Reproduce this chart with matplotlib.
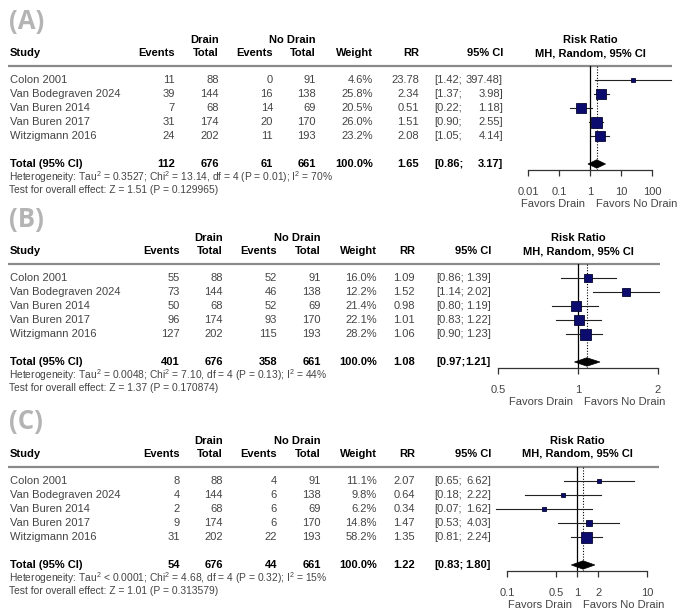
import numpy as np
import matplotlib.pyplot as plt
from matplotlib.patches import Polygon

plt.rcParams['font.family'] = ['Liberation Sans', 'DejaVu Sans']
plt.rcParams['mathtext.fontset'] = 'custom'
plt.rcParams['mathtext.rm'] = 'Liberation Sans'
plt.rcParams['mathtext.it'] = 'Liberation Sans:italic'
plt.rcParams['mathtext.bf'] = 'Liberation Sans:bold'

## Data shared by all three panels
studies = ['Colon 2001', 'Van Bodegraven 2024', 'Van Buren 2014', 'Van Buren 2017', 'Witzigmann 2016']
drain_total = [88, 144, 68, 174, 202]
nodrain_total = [91, 138, 69, 170, 193]

## (A)
a_drain_events = [11, 39, 7, 31, 24]
a_nodrain_events = [0, 16, 14, 20, 11]
a_weight = [4.6, 25.8, 20.5, 26.0, 23.2]
a_rr = [23.78, 2.34, 0.51, 1.51, 2.08]
a_lo = [1.42, 1.37, 0.22, 0.90, 1.05]
a_hi = [397.48, 3.98, 1.18, 2.55, 4.14]
a_totals = [112, 676, 61, 661]
a_summary = [1.65, 0.86, 3.17]
a_het = 'Heterogeneity: Tau$^2$ = 0.3527; Chi$^2$ = 13.14, df = 4 (P = 0.01); I$^2$ = 70%'
a_test = 'Test for overall effect: Z = 1.51 (P = 0.129965)'
a_ticks = [0.01, 0.1, 1, 10, 100]
a_ticklabels = ['0.01', '0.1', '1', '10', '100']

## (B)
b_drain_events = [55, 73, 50, 96, 127]
b_nodrain_events = [52, 46, 52, 93, 115]
b_weight = [16.0, 12.2, 21.4, 22.1, 28.2]
b_rr = [1.09, 1.52, 0.98, 1.01, 1.06]
b_lo = [0.86, 1.14, 0.80, 0.83, 0.90]
b_hi = [1.39, 2.02, 1.19, 1.22, 1.23]
b_totals = [401, 676, 358, 661]
b_summary = [1.08, 0.97, 1.21]
b_het = 'Heterogeneity: Tau$^2$ = 0.0048; Chi$^2$ = 7.10, df = 4 (P = 0.13); I$^2$ = 44%'
b_test = 'Test for overall effect: Z = 1.37 (P = 0.170874)'
b_ticks = [0.5, 1, 2]
b_ticklabels = ['0.5', '1', '2']

## (C)
c_drain_events = [8, 4, 2, 9, 31]
c_nodrain_events = [4, 6, 6, 6, 22]
c_weight = [11.1, 9.8, 6.2, 14.8, 58.2]
c_rr = [2.07, 0.64, 0.34, 1.47, 1.35]
c_lo = [0.65, 0.18, 0.07, 0.53, 0.81]
c_hi = [6.62, 2.22, 1.62, 4.03, 2.24]
c_totals = [54, 676, 44, 661]
c_summary = [1.22, 0.83, 1.80]
c_het = 'Heterogeneity: Tau$^2$ < 0.0001; Chi$^2$ = 4.68, df = 4 (P = 0.32); I$^2$ = 15%'
c_test = 'Test for overall effect: Z = 1.01 (P = 0.313579)'
c_ticks = [0.1, 0.5, 1, 2, 10]
c_ticklabels = ['0.1', '0.5', '1', '2', '10']

W, H = 685, 613
FS = 8
BODY = '#444444'
NAVY = '#0c0c6e'

fig = plt.figure(figsize=(W / 100, H / 100), dpi=100)
ov = fig.add_axes([0, 0, 1, 1])
ov.set_xlim(0, W)
ov.set_ylim(H, 0)
ov.axis('off')


def txt(x, y, s, ha='left', bold=False, color=BODY, size=FS):
    ov.text(x, y, s, ha=ha, va='center', fontsize=size, color=color,
            fontweight='bold' if bold else 'normal')


def draw_panel(base, label, cols, rule_end, de, ne, weight, rr, lo, hi, totals, summary,
               het, test, ticks, ticklabels, px_lo, px_hi):
    # cols: right edges of events, total, events, total, weight, rr, ci-left, ci-right
    ov.text(9, base - 45, label, ha='left', va='center', fontsize=18.5, color='#b4b4b4',
            fontweight='bold', family='Open Sans')

    centre = (px_lo + px_hi) / 2
    # header
    txt(cols[1], base - 26, 'Drain', ha='right', bold=True, color='black')
    txt(cols[3], base - 26, 'No Drain', ha='right', bold=True, color='black')
    txt(centre, base - 26, 'Risk Ratio', ha='center', bold=True, color='black')
    row2 = base - 13
    txt(10, row2, 'Study', bold=True, color='black')
    for x, s in zip(cols[:4], ['Events', 'Total', 'Events', 'Total']):
        txt(x, row2, s, ha='right', bold=True, color='black')
    txt(cols[4], row2, 'Weight', ha='right', bold=True, color='black')
    txt(cols[5], row2, 'RR', ha='right', bold=True, color='black')
    txt(cols[7], row2, '95% CI', ha='right', bold=True, color='black')
    txt(centre, row2, 'MH, Random, 95% CI', ha='center', bold=True, color='black')
    ov.plot([8, rule_end], [base, base], color='#8a8a8a', lw=1.6, solid_capstyle='butt')

    # study rows
    for i in range(len(studies)):
        y = base + 14 * (i + 1)
        txt(10, y, studies[i])
        txt(cols[0], y, str(de[i]), ha='right')
        txt(cols[1], y, str(drain_total[i]), ha='right')
        txt(cols[2], y, str(ne[i]), ha='right')
        txt(cols[3], y, str(nodrain_total[i]), ha='right')
        txt(cols[4], y, '%.1f%%' % weight[i], ha='right')
        txt(cols[5], y, '%.2f' % rr[i], ha='right')
        txt(cols[6], y, '[%.2f;' % lo[i])
        txt(cols[7], y, '%.2f]' % hi[i], ha='right')

    # total row
    y = base + 98
    txt(10, y, 'Total (95% CI)', bold=True, color='black')
    for x, v in zip(cols[:4], totals):
        txt(x, y, str(v), ha='right', bold=True, color='black')
    txt(cols[4], y, '100.0%', ha='right', bold=True, color='black')
    txt(cols[5], y, '%.2f' % summary[0], ha='right', bold=True, color='black')
    txt(cols[6], y, '[%.2f;' % summary[1], bold=True, color='black')
    txt(cols[7], y, '%.2f]' % summary[2], ha='right', bold=True, color='black')
    txt(9, base + 111, het, size=7.4)
    txt(9, base + 124, test, size=7.4)

    # forest axes: pixel span 430..685, from rule down to the axis line
    v_lo, v_hi = ticks[0], ticks[-1]
    ppd = (px_hi - px_lo) / (np.log10(v_hi) - np.log10(v_lo))
    x_left, x_right = 430, 685
    lim_l = 10 ** (np.log10(v_lo) + (x_left - px_lo) / ppd)
    lim_r = 10 ** (np.log10(v_lo) + (x_right - px_lo) / ppd)
    top, bottom = base, base + 104
    ax = fig.add_axes([x_left / W, 1 - bottom / H, (x_right - x_left) / W, (bottom - top) / H])
    ax.set_xscale('log')
    ax.set_xlim(lim_l, lim_r)
    ax.set_ylim(7.43, 0)
    ax.patch.set_alpha(0)
    for sp in ['top', 'left', 'right']:
        ax.spines[sp].set_visible(False)
    ax.spines['bottom'].set_bounds(v_lo, v_hi)
    ax.spines['bottom'].set_color('#333333')
    ax.spines['bottom'].set_linewidth(0.9)
    ax.set_yticks([])
    ax.set_xticks(ticks)
    ax.set_xticklabels(ticklabels)
    ax.minorticks_off()
    ax.tick_params(axis='x', direction='out', length=4.5, width=0.9, color='#333333',
                   labelsize=FS, labelcolor=BODY, pad=7.5)

    ax.axvline(1, color='black', lw=0.9)
    ax.axvline(summary[0], color='black', lw=0.8, ls=(0, (1, 1.5)))

    wmax = max(weight)
    for i in range(len(studies)):
        yy = i + 1
        ax.plot([lo[i], hi[i]], [yy, yy], color='#222222', lw=0.8, clip_on=False)
        side = 11 * np.sqrt(weight[i] / wmax) * 0.72
        ax.plot(rr[i], yy, marker='s', markersize=side, markerfacecolor=NAVY,
                markeredgecolor='#050530', markeredgewidth=0.6, clip_on=False)

    est, l, h = summary
    ax.add_patch(Polygon([[l, 7], [est, 7 - 0.3], [h, 7], [est, 7 + 0.3]], closed=True,
                         facecolor='black', edgecolor='black', lw=0.5, clip_on=False))

    # favour labels either side of the line of no effect
    one_px = px_lo + (0 - np.log10(v_lo)) * ppd
    txt(one_px - 5, base + 138, 'Favors Drain', ha='right')
    txt(one_px + 6, base + 138, 'Favors No Drain')


draw_panel(66, '(A)', [175, 219, 273, 316, 373, 419, 434, 503], 672,
           a_drain_events, a_nodrain_events, a_weight, a_rr, a_lo, a_hi, a_totals, a_summary,
           a_het, a_test, a_ticks, a_ticklabels, 528, 652)
draw_panel(264, '(B)', [180, 223, 277, 321, 377, 415, 436, 491], 660,
           b_drain_events, b_nodrain_events, b_weight, b_rr, b_lo, b_hi, b_totals, b_summary,
           b_het, b_test, b_ticks, b_ticklabels, 498, 658)
draw_panel(467, '(C)', [180, 223, 277, 321, 377, 415, 434, 491], 659,
           c_drain_events, c_nodrain_events, c_weight, c_rr, c_lo, c_hi, c_totals, c_summary,
           c_het, c_test, c_ticks, c_ticklabels, 507, 647)

fig.savefig('out.png', dpi=100)
